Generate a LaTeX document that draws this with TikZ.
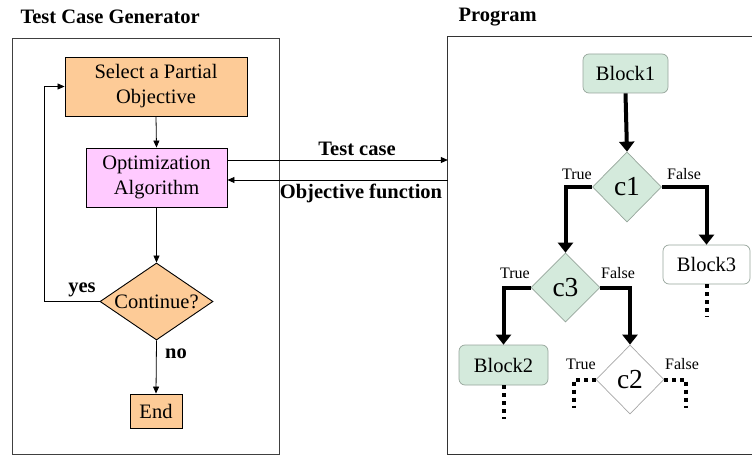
\documentclass[tikz,border=0pt]{standalone}
\usepackage{fontspec}
\setmainfont{Liberation Serif}
\usetikzlibrary{arrows.meta,shapes.geometric}
\definecolor{orng}{RGB}{253,203,151}
\definecolor{pnk}{RGB}{255,202,255}
\definecolor{grn}{RGB}{212,234,220}
\definecolor{gborder}{RGB}{150,165,155}
\begin{document}
\begin{tikzpicture}[x=1pt,y=-1pt,
  every node/.style={font=\rmfamily\fontsize{20.5}{25}\selectfont, align=center},
  box/.style={draw=black, line width=0.9pt, rectangle, inner sep=0pt},
  dia/.style={draw=black, line width=0.9pt, diamond, inner sep=0pt},
  blk/.style={draw=gborder, line width=0.7pt, rectangle, rounded corners=6pt, inner sep=0pt, minimum width=87pt, minimum height=39pt},
  cdia/.style={draw=gborder, line width=0.7pt, diamond, inner sep=0pt, font=\rmfamily\fontsize{27.5}{30}\selectfont},
  thinarrow/.style={line width=0.8pt, -{Triangle[length=7pt,width=6pt]}},
  thickarrow/.style={line width=4pt, -{Triangle[length=10pt,width=15pt]}},
  dots/.style={line width=4pt, dash pattern=on 4pt off 4pt},
  lbl/.style={font=\rmfamily\bfseries\fontsize{20.5}{23}\selectfont},
  tf/.style={font=\rmfamily\fontsize{16}{18}\selectfont}
]
\useasboundingbox (0,0) rectangle (752,457);

% frames
\node[draw=black!75, line width=0.8pt, rectangle, minimum width=267pt, minimum height=416pt, inner sep=0pt] (gen) at (145.5,246) {};
\node[rectangle, minimum width=305pt, minimum height=417pt, inner sep=0pt] (prog) at (600.5,245.5) {};
\draw[black!80, line width=1.1pt] (prog.north east) -- (prog.north west) -- (prog.south west) -- (prog.south east);

% titles
\node[lbl, anchor=west] (t1) at (17,17) {Test Case Generator};
\node[lbl, anchor=west] (t2) at (455,17) {Program};

% left flow
\node[box, fill=orng, minimum width=182pt, minimum height=59pt] (select) at (156,86.5) {Select a Partial\\Objective};
\node[box, fill=pnk, minimum width=141pt, minimum height=59pt] (opt) at (156.5,177.5) {Optimization\\Algorithm};
\node[dia, fill=orng, minimum width=113pt, minimum height=77pt] (cont) at (156.5,301.5) {\makebox[0pt]{Continue?}};
\node[box, fill=orng, minimum width=52pt, minimum height=34pt] (end) at (156,411) {End};

\draw[thinarrow] (select.south) -- (opt.north);
\draw[thinarrow] (opt.south) -- (cont.north);
\draw[thinarrow] (cont.south) -- (end.north);
\draw[thinarrow] (cont.west) -- ++(-55,0) |- (select.west);
\node[lbl] (yes) at (82,290) {yes};
\node[lbl] (no) at (176,354) {no};

% between
\coordinate (oa) at ([yshift=17.5pt]opt.east);
\coordinate (ob) at ([yshift=-2.5pt]opt.east);
\draw[thinarrow] (oa) -- (oa -| prog.west);
\draw[thinarrow] (ob -| prog.west) -- (ob);
\node[lbl] (tc) at (357,149) {Test case};
\node[lbl] (of) at (361,193) {Objective function};

% program
\node[blk, fill=grn, minimum width=85pt] (b1) at (625.5,73.5) {Block1};
\node[cdia, fill=grn, minimum width=69pt, minimum height=70pt] (c1) at (627,187) {\makebox[0pt]{c1}};
\node[blk, fill=white] (b3) at (706.5,264.5) {Block3};
\node[cdia, fill=grn, minimum width=69pt, minimum height=69pt] (c3) at (565.5,287.5) {\makebox[0pt]{c3}};
\node[blk, fill=grn, minimum width=89pt, minimum height=40pt] (b2) at (503.5,365) {Block2};
\node[cdia, fill=white, draw=black!35, minimum width=68pt, minimum height=69pt] (c2) at (630,379.5) {\makebox[0pt]{c2}};

\draw[thickarrow] (b1.south) -- (c1.north);
\draw[thickarrow] (c1.west) -| (c3.north);
\draw[thickarrow] (c1.east) -| (b3.north);
\draw[thickarrow] (c3.west) -| (b2.north);
\draw[thickarrow] (c3.east) -| (c2.north);

\node[tf] (t1l) at (577,174) {True};
\node[tf] (f1l) at (684,174) {False};
\node[tf] (t3l) at (515,273) {True};
\node[tf] (f3l) at (618,273) {False};
\node[tf] (t2l) at (581,364) {True};
\node[tf] (f2l) at (682,364) {False};

\draw[dots] (b3.south) -- ++(0,33);
\draw[dots] (b2.south) -- ++(0,34);
\draw[dots] (c2.west) -- ++(-22,0) -- ++(0,28);
\draw[dots] (c2.east) -- ++(22,0) -- ++(0,28);
\end{tikzpicture}
\end{document}
